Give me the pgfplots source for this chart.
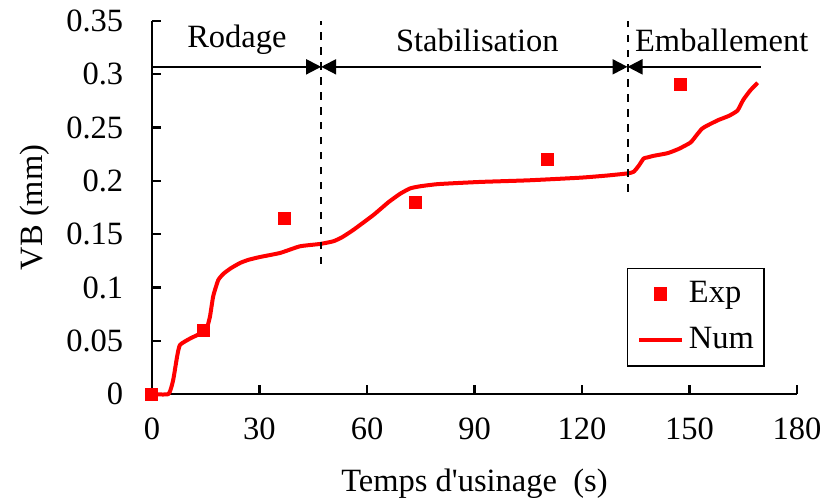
\documentclass[border=0pt]{standalone}
\usepackage{fontspec}
\setmainfont{Liberation Serif}
\usepackage{pgfplots}
\pgfplotsset{compat=1.18}
\usetikzlibrary{arrows.meta}
\begin{document}
\fontsize{13bp}{15.6bp}\selectfont
\begin{tikzpicture}
\begin{axis}[
  width=258bp, height=149.2bp, scale only axis,
  xmin=0, xmax=180, ymin=0, ymax=0.35,
  axis x line=bottom, axis y line=left,
  axis line style={-, line width=0.9bp},
  xtick={0,30,...,180},
  ytick={0,0.05,...,0.35},
  yticklabels={0,0.05,0.1,0.15,0.2,0.25,0.3,0.35},
  tick align=inside,
  major tick length=3.6bp,
  tick style={black, line width=0.9bp},
  /pgf/number format/assume math mode=true,
  ticklabel style={font=\fontsize{13bp}{15.6bp}\selectfont},
  yticklabel style={xshift=-7bp},
  xticklabel style={yshift=-5bp},
  xlabel={Temps d\textquotesingle usinage\ \ (s)},
  ylabel={VB (mm)},
  label style={font=\fontsize{13bp}{15.6bp}\selectfont},
  xlabel style={yshift=-2.8bp},
  ylabel style={yshift=-2bp},
  clip=false,
  legend style={at={(rel axis cs:0.736,0.338)}, anchor=north west,
    draw=black, line width=0.6bp, font=\fontsize{13bp}{15.6bp}\selectfont,
    inner xsep=4bp, inner ysep=3bp, row sep=4bp,
    text width=24bp},
  legend cell align=left,
]
\addplot[only marks, mark=square*, mark size=2.4bp, color=red] coordinates {
 (0,0) (14.5,0.06) (37,0.165) (73.5,0.18) (110.5,0.22) (147.5,0.29)
};
\addlegendentry{Exp}
\addplot[red, line width=1.6bp, smooth, tension=0.3, line join=round] coordinates {
(0,0) (4.6,0) (5.9,0.013) (7,0.035) (7.8,0.046) (10.6,0.052) (14.8,0.059) (15.6,0.065) (16.2,0.073) (17.1,0.092) (18.5,0.107) (20,0.113) (22,0.118) (24.6,0.123) (27,0.126) (30.2,0.1286) (35.8,0.1324) (41.3,0.1386) (46.9,0.1408) (50.6,0.1433) (53,0.147) (56.2,0.154) (61.8,0.168) (66,0.18) (69.3,0.188) (72.1,0.193) (75,0.195) (80,0.197) (91.6,0.199) (105,0.2005) (119.6,0.203) (127,0.205) (132.7,0.207) (134.4,0.2085) (135.8,0.214) (137.2,0.221) (138.3,0.222) (140,0.2235) (143.9,0.226) (147,0.23) (150.3,0.236) (152,0.243) (153.5,0.249) (155,0.252) (158,0.257) (161,0.261) (163.4,0.266) (165,0.276) (167,0.285) (169,0.292)
};
\addlegendentry{Num}
\draw[black, dashed, line width=0.8bp] (axis cs:47.2,0.122) -- (axis cs:47.2,0.35);
\draw[black, dashed, line width=0.8bp] (axis cs:132.7,0.19) -- (axis cs:132.7,0.35);
\draw[black, line width=0.8bp, -{Triangle[length=6bp,width=6bp]}] (axis cs:0,0.307) -- (axis cs:47.2,0.307);
\draw[black, line width=0.8bp, {Triangle[length=6bp,width=6bp]}-{Triangle[length=6bp,width=6bp]}] (axis cs:47.2,0.307) -- (axis cs:132.7,0.307);
\draw[black, line width=0.8bp, {Triangle[length=6bp,width=6bp]}-] (axis cs:132.7,0.307) -- (axis cs:170,0.307);
\node[font=\fontsize{13bp}{15.6bp}\selectfont] at (axis cs:23.7,0.332) {Rodage};
\node[font=\fontsize{13bp}{15.6bp}\selectfont] at (axis cs:90.8,0.332) {Stabilisation};
\node[font=\fontsize{13bp}{15.6bp}\selectfont] at (axis cs:159,0.332) {Emballement};
\coordinate (o) at (rel axis cs:0,0);
\end{axis}
\pgfresetboundingbox
\path[use as bounding box] ([shift={(-60.8bp,-42bp)}]o) rectangle ([shift={(270bp,157.6bp)}]o);
\end{tikzpicture}
\end{document}
